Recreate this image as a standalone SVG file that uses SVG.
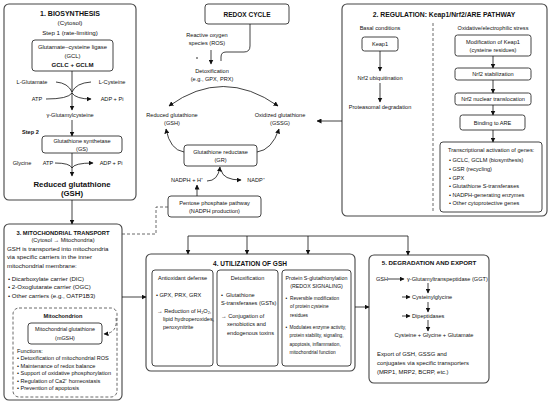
<svg xmlns="http://www.w3.org/2000/svg" width="550" height="405" viewBox="0 0 550 405">
<defs>
<marker id="a" viewBox="0 0 10 10" refX="9" refY="5" markerWidth="5" markerHeight="5" markerUnits="userSpaceOnUse" orient="auto-start-reverse"><path d="M0,0 L10,5 L0,10 z" fill="#111"/></marker>
<style>
text{font-family:"Liberation Sans",Arial,sans-serif;fill:#111}
.h{font-size:7px;font-weight:bold;text-anchor:middle}
.m{text-anchor:middle}
.t{font-size:6.2px}
.s{font-size:5.6px}
.x{font-size:4.75px}
.b{font-weight:bold}
.box{fill:#fff;stroke:#444;stroke-width:1}
.out{fill:#fff;stroke:#444;stroke-width:1.1}
.ln{fill:none;stroke:#111;stroke-width:0.8}
.ar{fill:none;stroke:#111;stroke-width:0.8;marker-end:url(#a)}
.ds{fill:none;stroke:#444;stroke-width:0.8;stroke-dasharray:3 2}
</style>
</defs>
<rect width="550" height="405" fill="#fff"/>

<g id="biosynthesis">
<rect class="out" x="4" y="4" width="132" height="196" rx="5"/>
<text class="h" x="70" y="15.5">1. BIOSYNTHESIS</text>
<text class="t m" x="70" y="25">(Cytosol)</text>
<text class="t m" x="70" y="35">Step 1 (rate-limiting)</text>
<rect class="box" x="32" y="40" width="81" height="31" rx="3"/>
<text class="m" x="72.5" y="49" style="font-size:5.9px">Glutamate–cysteine ligase</text>
<text class="m" x="72.5" y="57.5" style="font-size:5.9px">(GCL)</text>
<text class="m b" x="72.5" y="66.5" style="font-size:6.1px">GCLC + GCLM</text>
<text class="s m" x="32" y="84">L-Glutamate</text>
<text class="s m" x="112" y="84">L-Cysteine</text>
<text class="s m" x="37" y="101">ATP</text>
<text class="s m" x="112" y="101">ADP + Pi</text>
<text class="s m" x="70" y="117">γ-Glutamylcysteine</text>
<text class="s b" x="22" y="134">Step 2</text>
<rect class="box" x="42" y="136" width="80" height="17" rx="3"/>
<text class="s m" x="82" y="143">Glutathione synthetase</text>
<text class="s m" x="82" y="150.5">(GS)</text>
<text class="s m" x="22" y="165">Glycine</text>
<text class="s m" x="48" y="165">ATP</text>
<text class="s m" x="111" y="165">ADP + Pi</text>
<text class="m b" x="72" y="187" style="font-size:7.8px">Reduced glutathione</text>
<text class="m b" x="72" y="196" style="font-size:7.8px">(GSH)</text>
</g>

<g id="redox-cycle">
<rect class="box" x="205" y="4" width="84" height="20" rx="3"/>
<text class="h" x="247" y="16.5" style="font-size:6.5px">REDOX CYCLE</text>
<text class="s m" x="207" y="37">Reactive oxygen</text>
<text class="s m" x="207" y="45">species (ROS)</text>
<circle cx="197" cy="58" r="0.8" fill="#111"/>
<text class="s m" x="212" y="73">Detoxification</text>
<text class="s m" x="212" y="81">(e.g., GPX, PRX)</text>
<text class="s m" x="172" y="117">Reduced glutathione</text>
<text class="s m" x="172" y="125">(GSH)</text>
<text class="s m" x="280" y="117">Oxidized glutathione</text>
<text class="s m" x="280" y="125">(GSSG)</text>
<rect class="box" x="184" y="145" width="73" height="21" rx="3"/>
<text class="s m" x="220.5" y="154">Glutathione reductase</text>
<text class="s m" x="220.5" y="162">(GR)</text>
<text class="s m" x="187" y="182">NADPH + H⁺</text>
<text class="s m" x="256" y="182">NADP⁺</text>
<rect class="box" x="168" y="196" width="93" height="21" rx="3"/>
<text class="s m" x="214.5" y="204.5">Pentose phosphate pathway</text>
<text class="s m" x="214.5" y="212.5">(NADPH production)</text>
</g>

<g id="regulation">
<rect class="out" x="342" y="4" width="205" height="212" rx="5"/>
<text class="h" x="444" y="16.5" style="font-size:6.8px">2. REGULATION: Keap1/Nrf2/ARE PATHWAY</text>
<line class="ds" x1="433" y1="23" x2="433" y2="212"/>
<text class="s m" x="380" y="30">Basal conditions</text>
<rect class="box" x="362" y="37" width="36" height="14" rx="2.5"/>
<text class="s m" x="380" y="46">Keap1</text>
<text class="s m" x="380" y="80">Nrf2 ubiquitination</text>
<text class="s m" x="380" y="109">Proteasomal degradation</text>
<text class="s m" x="493" y="30">Oxidative/electrophilic stress</text>
<rect class="box" x="455" y="35" width="76" height="21" rx="2.5"/>
<text class="s m" x="493" y="44">Modification of Keap1</text>
<text class="s m" x="493" y="52">(cysteine residues)</text>
<rect class="box" x="455" y="68" width="76" height="12" rx="2.5"/>
<text class="s m" x="493" y="76">Nrf2 stabilization</text>
<rect class="box" x="455" y="93" width="76" height="12" rx="2.5"/>
<text class="s m" x="493" y="101">Nrf2 nuclear translocation</text>
<rect class="box" x="460" y="115" width="65" height="15" rx="2.5"/>
<text class="s m" x="492.5" y="124.5">Binding to ARE</text>
<rect class="box" x="440" y="142" width="102" height="70" rx="3"/>
<text class="s" x="448" y="152">Transcriptional activation of genes:</text>
<text class="s" x="449" y="162">•  GCLC, GCLM (biosynthesis)</text>
<text class="s" x="449" y="171">•  GSR (recycling)</text>
<text class="s" x="449" y="179.5">•  GPX</text>
<text class="s" x="449" y="188">•  Glutathione S-transferases</text>
<text class="s" x="449" y="196.5">•  NADPH-generating enzymes</text>
<text class="s" x="449" y="205">•  Other cytoprotective genes</text>
</g>

<g id="mitochondrial-transport">
<rect class="out" x="4" y="224" width="118" height="176" rx="5"/>
<text class="h" x="63" y="234.5" style="font-size:5.8px">3. MITOCHONDRIAL TRANSPORT</text>
<text class="s m" x="63" y="241.5">(Cytosol → Mitochondria)</text>
<text class="t" x="7" y="250.5">GSH is transported into mitochondria</text>
<text class="t" x="7" y="259">via specific carriers in the inner</text>
<text class="t" x="7" y="267.5">mitochondrial membrane:</text>
<text class="t" x="8" y="280.5" style="font-size:6.1px">•  Dicarboxylate carrier (DIC)</text>
<text class="t" x="8" y="289" style="font-size:6.1px">•  2-Oxoglutarate carrier (OGC)</text>
<text class="t" x="8" y="297.5" style="font-size:6.1px">•  Other carriers (e.g., OATP1B3)</text>
<rect class="ds" x="13" y="308" width="104" height="89" rx="6"/>
<text class="s m b" x="63" y="318">Mitochondrion</text>
<rect class="box" x="28" y="323" width="74" height="21" rx="3"/>
<text class="m" x="65" y="331" style="font-size:5.4px">Mitochondrial glutathione</text>
<text class="m" x="65" y="340" style="font-size:5.4px">(mGSH)</text>
<path class="ds" d="M116,318 Q118,333 104,334" marker-end="url(#a)"/>
<text class="s" x="17" y="353">Functions:</text>
<text class="s" x="17" y="360">•  Detoxification of mitochondrial ROS</text>
<text class="s" x="17" y="367.5">•  Maintenance of redox balance</text>
<text class="s" x="17" y="375">•  Support of oxidative phosphorylation</text>
<text class="s" x="17" y="382.5">•  Regulation of Ca2⁺ homeostasis</text>
<text class="s" x="17" y="390">•  Prevention of apoptosis</text>
</g>

<g id="utilization">
<rect class="out" x="146" y="254" width="209" height="117" rx="5"/>
<text class="h" x="250" y="265.5" style="font-size:6.5px">4. UTILIZATION OF GSH</text>
<rect class="box" x="152" y="270" width="61" height="96" rx="3"/>
<text class="s m" x="182.5" y="280">Antioxidant defense</text>
<text class="s" x="156" y="297">•  GPX, PRX, GRX</text>
<text class="s" x="157" y="313">→ Reduction of H₂O₂,</text>
<text class="s" x="163" y="321">lipid hydroperoxides,</text>
<text class="s" x="163" y="329">peroxynitrite</text>
<rect class="box" x="217" y="270" width="61" height="96" rx="3"/>
<text class="s m" x="247.5" y="280">Detoxification</text>
<text class="s" x="221" y="297">•</text>
<text class="s" x="226" y="297">Glutathione</text>
<text class="s" x="221" y="305">S-transferases (GSTs)</text>
<text class="s" x="221" y="318">→ Conjugation of</text>
<text class="s" x="227" y="326">xenobiotics and</text>
<text class="s" x="227" y="335">endogenous toxins</text>
<rect class="box" x="282" y="270" width="69" height="96" rx="3"/>
<text class="s m" x="316.5" y="280" style="font-size:5.3px">Protein S-glutathionylation</text>
<text class="s m" x="316.5" y="288" style="font-size:5.3px">(REDOX SIGNALING)</text>
<text class="x" x="285.5" y="300">•</text>
<text class="x" x="290" y="300">Reversible modification</text>
<text class="x" x="290" y="308">of protein cysteine</text>
<text class="x" x="290" y="317">residues</text>
<text class="x" x="285.5" y="329">•</text>
<text class="x" x="289.5" y="329">Modulates enzyme activity,</text>
<text class="x" x="289.5" y="337">protein stability, signaling,</text>
<text class="x" x="289.5" y="346">apoptosis, inflammation,</text>
<text class="x" x="289.5" y="354">mitochondrial function</text>
</g>

<g id="degradation">
<rect class="out" x="369" y="255" width="120" height="128" rx="5"/>
<text class="h" x="429" y="264.5" style="font-size:6.2px">5. DEGRADATION AND EXPORT</text>
<text class="s" x="376" y="281">GSH</text>
<text class="s" x="407" y="281">γ-Glutamyltranspeptidase (GGT)</text>
<text class="s" x="412" y="299">Cysteinylglycine</text>
<text class="s" x="412" y="318">Dipeptidases</text>
<text class="s m" x="434" y="337">Cysteine + Glycine + Glutamate</text>
<text class="s" x="377" y="356" style="font-size:5.9px">Export of GSH, GSSG and</text>
<text class="s" x="377" y="365" style="font-size:5.9px">conjugates via specific transporters</text>
<text class="s" x="377" y="374" style="font-size:5.9px">(MRP1, MRP2, BCRP, etc.)</text>
</g>

<g id="connectors">
<line class="ar" x1="72" y1="71" x2="72" y2="110"/>
<path class="ln" d="M56,82 Q68,83 72,92"/>
<path class="ln" d="M91,82 Q76,83 72,92"/>
<path class="ln" d="M46,99 Q68,99 72,93"/>
<path class="ar" d="M72,93 Q76,99 91,99"/>
<line class="ar" x1="72" y1="120" x2="72" y2="136"/>
<path class="ln" d="M55,163 Q70,163 72,168"/>
<path class="ar" d="M72,168 Q74,163 93,163"/>
<line class="ar" x1="72" y1="153" x2="72" y2="176"/>
<line class="ar" x1="72" y1="200" x2="72" y2="224"/>
<path class="ln" d="M250,24 V46 Q250,52 244,52 H226 Q221,52 221,57 V61"/>
<line class="ar" x1="211" y1="50" x2="211" y2="64"/>
<path class="ar" d="M169,106 Q223,67 278,106" marker-start="url(#a)"/>
<path class="ar" d="M184,152 Q170,150 166,129"/>
<path class="ar" d="M257,152 Q272,150 279,129"/>
<path class="ar" d="M207,181 Q218,181 220,167"/>
<path class="ar" d="M221,170 Q223,180 241,180"/>
<line class="ar" x1="197" y1="196" x2="197" y2="185"/>
<line class="ar" x1="342" y1="121" x2="317" y2="121"/>
<line class="ar" x1="380" y1="51" x2="380" y2="71"/>
<line class="ar" x1="380" y1="83" x2="380" y2="102"/>
<line class="ar" x1="493" y1="56" x2="493" y2="68"/>
<line class="ar" x1="493" y1="80" x2="493" y2="93"/>
<line class="ar" x1="493" y1="105" x2="493" y2="115"/>
<line class="ar" x1="493" y1="130" x2="493" y2="142"/>
<path class="ds" d="M122,234 H156 V207 H168"/>
<line class="ar" x1="122" y1="297" x2="146" y2="297"/>
<path class="ln" d="M188,236 H408"/>
<line class="ar" x1="188" y1="236" x2="188" y2="254"/>
<line class="ar" x1="247" y1="236" x2="247" y2="254"/>
<line class="ar" x1="308" y1="236" x2="308" y2="254"/>
<line class="ar" x1="408" y1="236" x2="408" y2="255"/>
<line class="ar" x1="355" y1="307" x2="369" y2="307"/>
<line class="ar" x1="388" y1="279" x2="404" y2="279"/>
<line class="ar" x1="428" y1="283" x2="428" y2="293"/>
<line class="ar" x1="402" y1="297" x2="410" y2="297"/>
<line class="ar" x1="428" y1="302" x2="428" y2="312"/>
<line class="ar" x1="402" y1="316" x2="410" y2="316"/>
<line class="ar" x1="428" y1="320" x2="428" y2="331"/>
</g>
</svg>
